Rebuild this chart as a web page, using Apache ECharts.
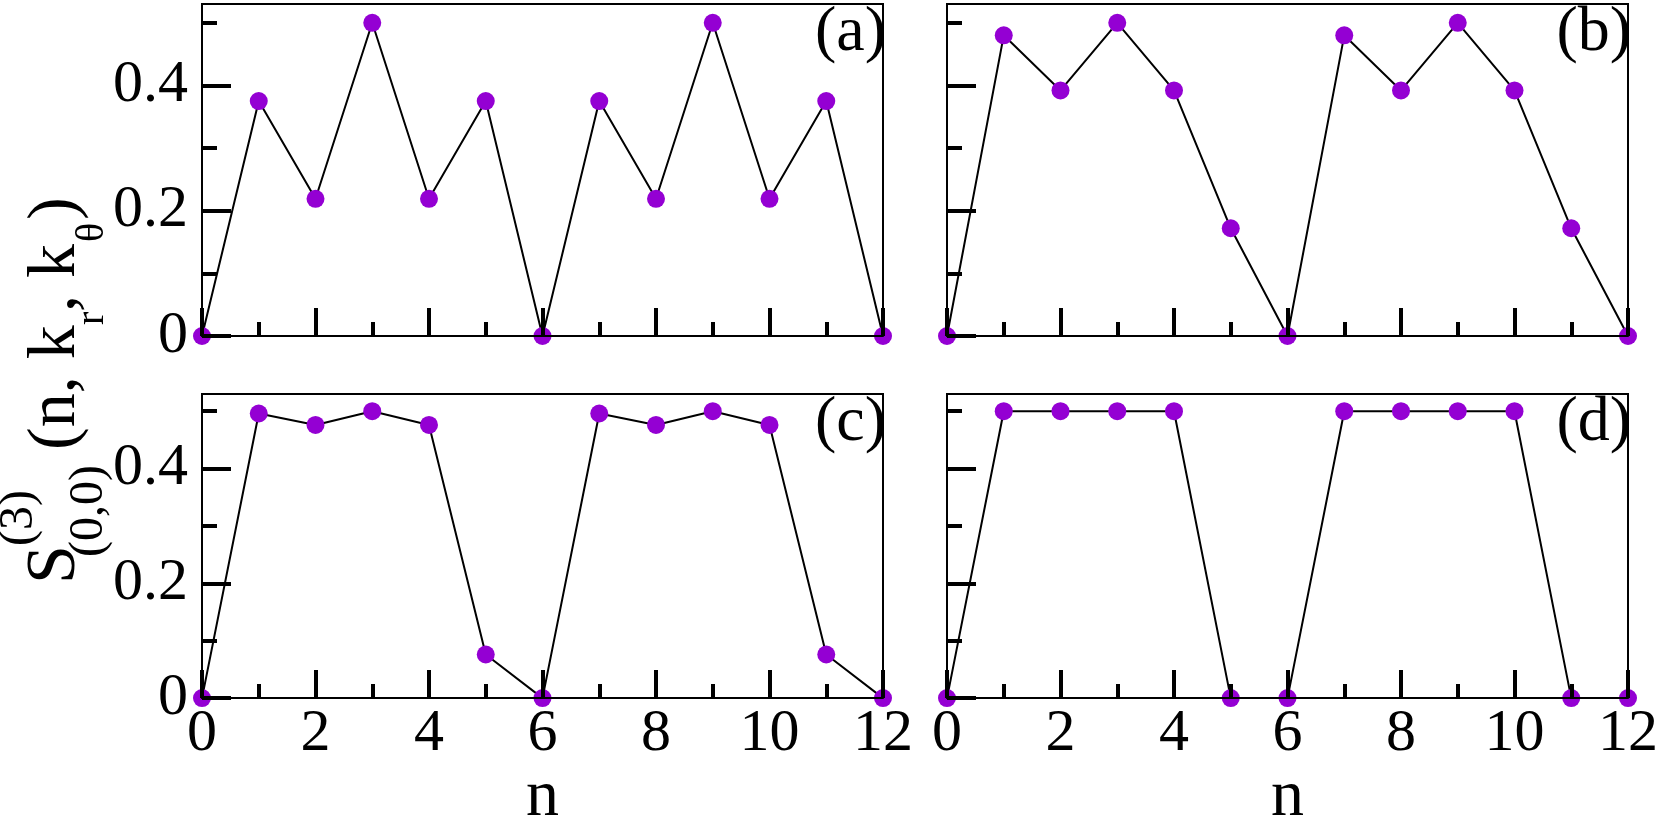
<!DOCTYPE html>
<html>
<head>
<meta charset="utf-8">
<script src="https://cdn.jsdelivr.net/npm/echarts@6/dist/echarts.min.js"></script>
<style>
html,body{margin:0;padding:0;background:#fff;}
#chart{width:1661px;height:832px;}
</style>
</head>
<body>
<div id="chart"></div>
<script>
// ---- data ----
const nValues = [0, 1, 2, 3, 4, 5, 6, 7, 8, 9, 10, 11, 12];
const panelA = [0, 0.375, 0.219, 0.5, 0.219, 0.375, 0, 0.375, 0.219, 0.5, 0.219, 0.375, 0];
const panelB = [0, 0.48, 0.392, 0.5, 0.392, 0.172, 0, 0.48, 0.392, 0.5, 0.392, 0.172, 0];
const panelC = [0, 0.496, 0.476, 0.5, 0.476, 0.076, 0, 0.496, 0.476, 0.5, 0.476, 0.076, 0];
const panelD = [0, 0.5, 0.5, 0.5, 0.5, 0, 0, 0.5, 0.5, 0.5, 0.5, 0, 0];
const panelLabels = ['(a)', '(b)', '(c)', '(d)'];
const yMajorTicks = [0, 0.2, 0.4];
const yMinorTicks = [0.1, 0.3, 0.5];
const xMinorTicks = [1, 3, 5, 7, 9, 11];
const xAxisTitle = 'n';

// ---- layout ----
const FONT = "'Liberation Serif', 'Times New Roman', serif";
const grids = [
  {left: 202, top: 4, width: 681, height: 332},
  {left: 947, top: 4, width: 681, height: 332},
  {left: 202, top: 394, width: 681, height: 333},
  {left: 947, top: 394, width: 681, height: 333}
];
const panels = [panelA, panelB, panelC, panelD];
const tickStyle = {color: '#000', width: 4};

const xAxes = [], yAxes = [], series = [], graphics = [];
grids.forEach((g, i) => {
  const bottomRow = i >= 2;
  const leftCol = i % 2 === 0;
  xAxes.push({
    gridIndex: i, type: 'value', min: 0, max: 12, interval: 2, position: 'bottom', z: 10,
    axisLine: {show: true, onZero: false, lineStyle: {color: '#000', width: 2}},
    axisTick: {show: true, inside: true, length: 28, lineStyle: tickStyle},
    axisLabel: {show: bottomRow, fontSize: 60, fontFamily: FONT, color: '#000', margin: 6},
    splitLine: {show: false},
    name: bottomRow ? xAxisTitle : '', nameLocation: 'middle', nameGap: 48,
    nameTextStyle: {fontSize: 66, fontFamily: FONT, color: '#000'}
  });
  xAxes.push({
    gridIndex: i, type: 'value', min: 0, max: 12, interval: 1, position: 'bottom', z: 10,
    axisLine: {show: false, onZero: false},
    axisTick: {show: true, inside: true, length: 14, customValues: xMinorTicks, lineStyle: tickStyle},
    axisLabel: {show: false},
    splitLine: {show: false}
  });
  yAxes.push({
    gridIndex: i, type: 'value', min: 0, max: 0.53, interval: 0.1, position: 'left', z: 10,
    axisLine: {show: true, onZero: false, lineStyle: {color: '#000', width: 2}},
    axisTick: {show: true, inside: true, length: 29, customValues: yMajorTicks, lineStyle: tickStyle},
    axisLabel: {show: leftCol, customValues: yMajorTicks, fontSize: 60, fontFamily: FONT, color: '#000', margin: 14},
    splitLine: {show: false}
  });
  yAxes.push({
    gridIndex: i, type: 'value', min: 0, max: 0.53, interval: 0.1, position: 'left', z: 10,
    axisLine: {show: false, onZero: false},
    axisTick: {show: true, inside: true, length: 15, customValues: yMinorTicks, lineStyle: tickStyle},
    axisLabel: {show: false},
    splitLine: {show: false}
  });
  series.push({
    type: 'line', xAxisIndex: 2 * i, yAxisIndex: 2 * i, clip: false, z: 2,
    data: nValues.map((n, k) => [n, panels[i][k]]),
    symbol: 'circle', symbolSize: 18, showAllSymbol: true,
    itemStyle: {color: '#9400d3'},
    lineStyle: {color: '#000', width: 2},
    emphasis: {disabled: true}
  });
  graphics.push({
    type: 'text', x: g.left + g.width + 3, y: g.top + 29, z: 20,
    style: {text: panelLabels[i], font: '64px ' + FONT, fill: '#000', align: 'right', verticalAlign: 'middle'}
  });
});

// y-axis title: S^(3)_(0,0)(n, k_r, k_θ), rotated
const R = Math.PI / 2;
function ytxt(text, size, x, y) {
  return {type: 'text', x: x, y: y, rotation: R, z: 20,
    style: {text: text, font: size + 'px ' + FONT, fill: '#000', align: 'left', verticalAlign: 'middle'}};
}
graphics.push(ytxt('S', 70, 56, 584));
graphics.push(ytxt('(3)', 48, 19, 546));
graphics.push(ytxt('(0,0)', 48, 89, 557));
graphics.push(ytxt('(n, k', 68, 56, 450));
graphics.push(ytxt('r', 40, 92, 325));
graphics.push(ytxt(', k', 68, 56, 312));
graphics.push(ytxt('θ', 40, 92, 242));
graphics.push(ytxt(')', 68, 56, 220));

const chart = echarts.init(document.getElementById('chart'), null, {renderer: 'canvas'});
chart.setOption({
  animation: false,
  backgroundColor: '#fff',
  grid: grids.map(g => Object.assign({show: true, borderColor: '#000', borderWidth: 2, backgroundColor: 'transparent', containLabel: false}, g)),
  xAxis: xAxes,
  yAxis: yAxes,
  series: series,
  graphic: graphics
});
</script>
</body>
</html>
